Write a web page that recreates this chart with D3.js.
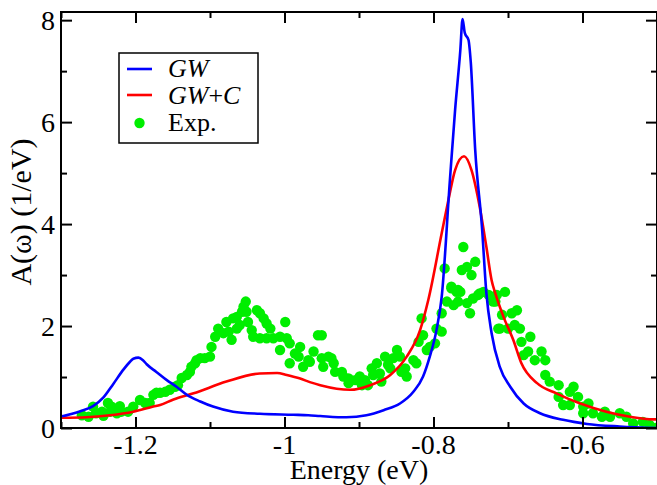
<!DOCTYPE html>
<html>
<head>
<meta charset="utf-8">
<script src="https://cdn.jsdelivr.net/npm/d3@7"></script>
<style>
html,body{margin:0;padding:0;background:#fff;}
svg{display:block;}
text{font-family:"Liberation Serif","Times New Roman",serif;fill:#000;}
</style>
</head>
<body>
<svg id="chart" width="657" height="485"></svg>
<script>
// ---- data ----
const gwX = [-1.300,-1.297,-1.285,-1.274,-1.257,-1.243,-1.230,-1.216,-1.208,-1.203,-1.196,-1.190,-1.185,-1.172,-1.158,-1.145,-1.131,-1.113,-1.096,-1.069,-1.033,-0.988,-0.968,-0.952,-0.917,-0.890,-0.867,-0.845,-0.827,-0.814,-0.805,-0.796,-0.789,-0.778,-0.771,-0.764,-0.761,-0.758,-0.753,-0.750,-0.744,-0.735,-0.729,-0.722,-0.711,-0.697,-0.679,-0.657,-0.626,-0.594,-0.550,-0.500];
const gwY = [0.23,0.235,0.28,0.33,0.43,0.60,0.86,1.15,1.29,1.36,1.38,1.33,1.25,1.10,0.94,0.81,0.65,0.52,0.42,0.32,0.28,0.26,0.25,0.235,0.21,0.25,0.35,0.48,0.71,1.01,1.40,1.92,2.57,4.86,6.24,7.41,8.02,7.75,7.61,7.18,5.45,3.95,2.64,1.86,1.20,0.81,0.48,0.29,0.16,0.08,0.03,0.0];

const gwcX = [-1.300,-1.266,-1.234,-1.203,-1.176,-1.167,-1.149,-1.122,-1.078,-1.033,-1.010,-0.997,-0.979,-0.966,-0.952,-0.912,-0.885,-0.858,-0.836,-0.818,-0.807,-0.789,-0.780,-0.771,-0.759,-0.749,-0.738,-0.729,-0.722,-0.717,-0.706,-0.693,-0.682,-0.661,-0.635,-0.603,-0.568,-0.536,-0.505,-0.500];
const gwcY = [0.20,0.21,0.25,0.32,0.42,0.45,0.56,0.68,0.91,1.07,1.08,1.04,0.97,0.90,0.84,0.75,0.84,1.04,1.40,1.92,2.51,3.82,4.47,5.06,5.33,5.06,4.34,3.55,2.90,2.64,2.18,1.73,1.27,0.88,0.68,0.48,0.32,0.22,0.17,0.17];

const expX = [-1.272,-1.263,-1.257,-1.253,-1.245,-1.243,-1.237,-1.232,-1.234,-1.225,-1.221,-1.219,-1.210,-1.203,-1.194,-1.187,-1.181,-1.176,-1.172,-1.167,-1.160,-1.154,-1.147,-1.143,-1.138,-1.131,-1.127,-1.125,-1.120,-1.118,-1.113,-1.107,-1.100,-1.098,-1.093,-1.089,-1.082,-1.078,-1.075,-1.071,-1.069,-1.064,-1.064,-1.060,-1.057,-1.055,-1.052,-1.051,-1.049,-1.044,-1.042,-1.037,-1.033,-1.028,-1.024,-1.019,-1.033,-1.024,-1.015,-1.006,-1.006,-0.999,-0.997,-0.993,-0.993,-0.986,-0.981,-0.979,-0.975,-0.968,
 -0.966,-0.961,-0.955,-0.950,-0.950,-0.948,-0.941,-0.937,-0.934,-0.932,-0.923,-0.921,-0.914,-0.914,-0.905,-0.899,-0.896,-0.892,-0.888,-0.883,-0.881,-0.876,-0.872,-0.870,-0.865,-0.861,-0.858,-0.854,-0.849,-0.845,-0.843,-0.838,-0.836,-0.827,-0.823,-0.820,-0.816,-0.814,-0.809,-0.805,-0.798,-0.796,-0.789,-0.789,-0.782,-0.776,-0.773,-0.769,-0.764,-0.767,-0.755,-0.751,-0.747,-0.740,-0.733,-0.726,-0.720,-0.715,-0.713,
 -0.760,-0.785,-0.762,-0.755,-0.744,-0.749,-0.776,-0.767,-0.738,-0.704,
 -0.717,-0.708,-0.695,-0.688,-0.711,-0.700,-0.691,-0.684,-0.682,-0.670,-0.679,-0.673,-0.664,-0.655,-0.650,-0.650,-0.644,-0.632,-0.632,-0.626,-0.617,-0.612,-0.617,-0.606,-0.599,-0.592,-0.599,-0.586,-0.574,-0.570,-0.563,-0.550,-0.541,-0.532,-0.519,-0.510,-0.502];
const expY = [0.25,0.22,0.42,0.29,0.32,0.24,0.49,0.42,0.32,0.29,0.43,0.32,0.32,0.42,0.55,0.49,0.49,0.65,0.69,0.69,0.71,0.75,0.81,0.84,0.98,1.04,1.10,1.20,1.27,1.33,1.37,1.37,1.40,1.59,1.79,1.95,1.86,2.08,1.89,1.73,2.15,2.18,1.95,2.02,2.28,2.38,2.48,2.28,2.08,1.92,1.79,2.31,2.25,2.15,2.05,1.95,1.76,1.76,1.76,1.79,1.53,2.08,1.76,1.66,1.27,1.46,1.40,1.59,1.20,1.33,
 1.30,1.50,1.82,1.82,1.37,1.20,1.40,1.37,1.27,1.10,1.10,1.01,0.97,0.88,0.94,1.01,0.84,0.94,0.84,1.17,1.04,1.27,1.07,0.91,1.40,1.24,1.17,1.37,1.53,1.40,1.10,1.17,1.01,1.33,1.27,1.69,2.15,1.82,1.53,1.59,1.66,1.95,1.89,2.25,2.48,2.74,2.41,2.67,2.67,2.48,2.45,2.25,2.54,2.61,2.67,2.61,2.48,2.61,1.95,
 3.55,3.13,3.10,3.16,3.26,3.00,2.77,2.71,2.64,2.67,
 2.48,2.22,2.25,2.31,1.95,1.95,2.02,1.95,1.69,1.79,1.43,1.50,1.33,1.50,1.33,1.04,0.91,0.84,0.61,0.45,0.45,0.81,0.71,0.61,0.42,0.48,0.29,0.29,0.22,0.32,0.22,0.29,0.22,0.09,0.12,0.06,0.0];

const xMajor = [-1.2,-1.0,-0.8,-0.6];
const xMajorLabels = ["-1.2","-1","-0.8","-0.6"];
const xMinor = [-1.3,-1.1,-0.9,-0.7,-0.5];
const yMajor = [0,2,4,6,8];
const yMajorLabels = ["0","2","4","6","8"];
const yMinor = [1,3,5,7];

const seriesNames = ["GW","GW+C","Exp."];
const colGW = "#0000ff", colGWC = "#ff0000", colExp = "#00ee00";

// ---- layout ----
const L = 61, R = 657, T = 12, B = 428;
const svg = d3.select("#chart");
const x = d3.scaleLinear().domain([-1.3,-0.5]).range([L,R]);
const y = d3.scaleLinear().domain([0,8.16]).range([B,T]);

svg.append("defs").append("clipPath").attr("id","clip")
  .append("rect").attr("x",L).attr("y",T).attr("width",R-L).attr("height",B-T);

const plot = svg.append("g").attr("clip-path","url(#clip)");

const line = d3.line().x(d=>x(d[0])).y(d=>y(d[1])).curve(d3.curveMonotoneX);
plot.append("g").selectAll("circle").data(d3.zip(expX,expY)).join("circle")
  .attr("cx",d=>x(d[0])).attr("cy",d=>y(d[1])).attr("r",5.2).attr("fill",colExp);
plot.append("path").datum(d3.zip(gwcX,gwcY)).attr("d",line)
  .attr("fill","none").attr("stroke",colGWC).attr("stroke-width",2.6).attr("stroke-linejoin","round");
plot.append("path").datum(d3.zip(gwX,gwY)).attr("d",line)
  .attr("fill","none").attr("stroke",colGW).attr("stroke-width",2.6).attr("stroke-linejoin","round");

function styleAxis(g){
  g.select(".domain").remove();
  g.selectAll("line").attr("stroke","#000").attr("stroke-width",2);
  g.selectAll("text").remove();
}
const axes = svg.append("g");
axes.append("g").attr("transform",`translate(0,${B})`).call(d3.axisBottom(x).tickValues(xMajor).tickSize(-11)).call(styleAxis);
axes.append("g").attr("transform",`translate(0,${B})`).call(d3.axisBottom(x).tickValues(xMinor).tickSize(-6)).call(styleAxis);
axes.append("g").attr("transform",`translate(0,${T})`).call(d3.axisTop(x).tickValues(xMajor).tickSize(-11)).call(styleAxis);
axes.append("g").attr("transform",`translate(0,${T})`).call(d3.axisTop(x).tickValues(xMinor).tickSize(-6)).call(styleAxis);
axes.append("g").attr("transform",`translate(${L},0)`).call(d3.axisLeft(y).tickValues(yMajor).tickSize(-11)).call(styleAxis);
axes.append("g").attr("transform",`translate(${L},0)`).call(d3.axisLeft(y).tickValues(yMinor).tickSize(-6)).call(styleAxis);
axes.append("g").attr("transform",`translate(${R},0)`).call(d3.axisRight(y).tickValues(yMajor).tickSize(-11)).call(styleAxis);
axes.append("g").attr("transform",`translate(${R},0)`).call(d3.axisRight(y).tickValues(yMinor).tickSize(-6)).call(styleAxis);

svg.append("rect").attr("x",L).attr("y",T).attr("width",R-L).attr("height",B-T)
  .attr("fill","none").attr("stroke","#000").attr("stroke-width",2);

svg.append("g").selectAll("text").data(xMajor).join("text")
  .attr("x",d=>x(d)).attr("y",454).attr("text-anchor","middle").attr("font-size",28)
  .text((d,i)=>xMajorLabels[i]);
svg.append("g").selectAll("text").data(yMajor).join("text")
  .attr("x",55).attr("y",d=>y(d)+10).attr("text-anchor","end").attr("font-size",28)
  .text((d,i)=>yMajorLabels[i]);

svg.append("text").attr("x",(L+R)/2).attr("y",479).attr("text-anchor","middle").attr("font-size",28).text("Energy (eV)");
svg.append("text").attr("transform",`translate(31,212) rotate(-90)`).attr("text-anchor","middle").attr("font-size",30).text("A(ω) (1/eV)");

const lg = svg.append("g");
lg.append("rect").attr("x",119).attr("y",53).attr("width",139).attr("height",90)
  .attr("fill","#fff").attr("stroke","#000").attr("stroke-width",1.5);
lg.append("line").attr("x1",127).attr("x2",152).attr("y1",69).attr("y2",69).attr("stroke",colGW).attr("stroke-width",2.6);
lg.append("line").attr("x1",127).attr("x2",152).attr("y1",95).attr("y2",95).attr("stroke",colGWC).attr("stroke-width",2.6);
lg.append("circle").attr("cx",139.5).attr("cy",123).attr("r",5.2).attr("fill",colExp);
const t1 = lg.append("text").attr("x",168).attr("y",77).attr("font-size",26);
t1.append("tspan").attr("font-style","italic").text(seriesNames[0]);
const t2 = lg.append("text").attr("x",168).attr("y",104).attr("font-size",26);
t2.append("tspan").attr("font-style","italic").text("GW");
t2.append("tspan").text("+");
t2.append("tspan").attr("font-style","italic").text("C");
lg.append("text").attr("x",168).attr("y",131).attr("font-size",26).text(seriesNames[2]);
</script>
</body>
</html>
